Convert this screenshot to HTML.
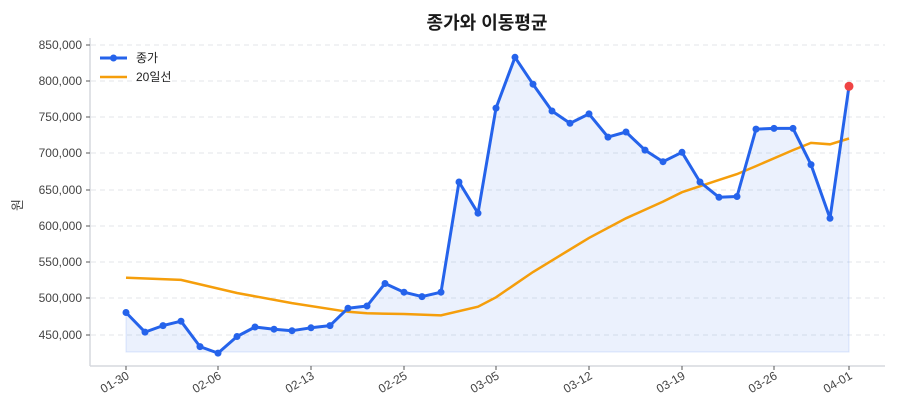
<!DOCTYPE html>
<html><head><meta charset="utf-8"><style>
html,body{margin:0;padding:0;background:#fff;}
svg{display:block;font-family:"Liberation Sans","Noto Sans CJK KR",sans-serif;}
</style></head><body>
<svg width="900" height="420" viewBox="0 0 900 420">
<text x="487" y="29" text-anchor="middle" font-size="18" font-weight="bold" fill="#1a1a1a">종가와 이동평균</text>
<g stroke="#e3e6ea" stroke-dasharray="5,4" stroke-width="1">
<line x1="91" x2="885" y1="45" y2="45"/><line x1="91" x2="885" y1="81" y2="81"/><line x1="91" x2="885" y1="117" y2="117"/><line x1="91" x2="885" y1="153" y2="153"/><line x1="91" x2="885" y1="190" y2="190"/><line x1="91" x2="885" y1="226" y2="226"/><line x1="91" x2="885" y1="262" y2="262"/><line x1="91" x2="885" y1="298" y2="298"/><line x1="91" x2="885" y1="335" y2="335"/>
</g>
<line x1="90" y1="38" x2="90" y2="366" stroke="#d5d8de" stroke-width="1.5"/>
<line x1="90" y1="366" x2="885" y2="366" stroke="#d5d8de" stroke-width="1.5"/>
<g font-size="12" fill="#444" text-anchor="end">
<text x="82" y="49">850,000</text><text x="82" y="85">800,000</text><text x="82" y="121">750,000</text><text x="82" y="157">700,000</text><text x="82" y="194">650,000</text><text x="82" y="230">600,000</text><text x="82" y="266">550,000</text><text x="82" y="302">500,000</text><text x="82" y="339">450,000</text>
</g>
<g stroke="#555"><line x1="86" x2="90" y1="45" y2="45"/><line x1="86" x2="90" y1="81" y2="81"/><line x1="86" x2="90" y1="117" y2="117"/><line x1="86" x2="90" y1="153" y2="153"/><line x1="86" x2="90" y1="190" y2="190"/><line x1="86" x2="90" y1="226" y2="226"/><line x1="86" x2="90" y1="262" y2="262"/><line x1="86" x2="90" y1="298" y2="298"/><line x1="86" x2="90" y1="335" y2="335"/></g>
<text transform="translate(22,205) rotate(-90)" font-size="13" fill="#444" text-anchor="middle">원</text>
<g font-size="12" fill="#444" text-anchor="end">
<text transform="translate(130,378) rotate(-30)">01-30</text>
<text transform="translate(222,378) rotate(-30)">02-06</text>
<text transform="translate(315,378) rotate(-30)">02-13</text>
<text transform="translate(408,378) rotate(-30)">02-25</text>
<text transform="translate(500,378) rotate(-30)">03-05</text>
<text transform="translate(593,378) rotate(-30)">03-12</text>
<text transform="translate(686,378) rotate(-30)">03-19</text>
<text transform="translate(778,378) rotate(-30)">03-26</text>
<text transform="translate(853,378) rotate(-30)">04-01</text>
</g>
<g stroke="#555"><line x1="126" x2="126" y1="366" y2="370"/><line x1="218" x2="218" y1="366" y2="370"/><line x1="311" x2="311" y1="366" y2="370"/><line x1="404" x2="404" y1="366" y2="370"/><line x1="496" x2="496" y1="366" y2="370"/><line x1="589" x2="589" y1="366" y2="370"/><line x1="682" x2="682" y1="366" y2="370"/><line x1="774" x2="774" y1="366" y2="370"/><line x1="849" x2="849" y1="366" y2="370"/></g>
<polygon fill="#2563eb" fill-opacity="0.09" stroke="#2563eb" stroke-opacity="0.15" points="126,352 126,312.5 145,332.1 163,325.6 181,321.2 200,346.6 218,353.1 237,336.5 255,327 274,329.2 292,330.7 311,327.8 330,325.6 348,308.2 367,306 385,283.5 404,292.2 422,296.6 441,292.2 459,182 478,213.2 496,108.1 515,57.3 533,84.2 552,111 570,123.3 589,113.9 608,137.1 626,132 645,150.1 663,161.7 682,152.3 700,182 719,197.3 737,196.5 756,129.1 774,128.4 793,128.4 811,164.6 830,218.3 849,86.3 849,352"/>
<polyline fill="none" stroke="#f59e0b" stroke-width="2.5" points="126,277.7 181,279.9 237,293 292,303.1 348,311.8 367,313.3 404,314 441,315.4 478,306.7 496,297.3 515,284.3 533,272 570,249.5 589,237.9 626,218.3 663,201.6 682,192.2 719,179.9 737,174.1 756,166.1 793,150.1 811,142.9 830,144.3 849,138.5"/>
<polyline id="c" fill="none" stroke="#2563eb" stroke-width="3" stroke-linejoin="round" points="126,312.5 145,332.1 163,325.6 181,321.2 200,346.6 218,353.1 237,336.5 255,327 274,329.2 292,330.7 311,327.8 330,325.6 348,308.2 367,306 385,283.5 404,292.2 422,296.6 441,292.2 459,182 478,213.2 496,108.1 515,57.3 533,84.2 552,111 570,123.3 589,113.9 608,137.1 626,132 645,150.1 663,161.7 682,152.3 700,182 719,197.3 737,196.5 756,129.1 774,128.4 793,128.4 811,164.6 830,218.3 849,86.3"/>
<g fill="#2563eb">
<circle cx="126" cy="312.5" r="3.5"/><circle cx="145" cy="332.1" r="3.5"/><circle cx="163" cy="325.6" r="3.5"/><circle cx="181" cy="321.2" r="3.5"/><circle cx="200" cy="346.6" r="3.5"/><circle cx="218" cy="353.1" r="3.5"/><circle cx="237" cy="336.5" r="3.5"/><circle cx="255" cy="327" r="3.5"/><circle cx="274" cy="329.2" r="3.5"/><circle cx="292" cy="330.7" r="3.5"/><circle cx="311" cy="327.8" r="3.5"/><circle cx="330" cy="325.6" r="3.5"/><circle cx="348" cy="308.2" r="3.5"/><circle cx="367" cy="306" r="3.5"/><circle cx="385" cy="283.5" r="3.5"/><circle cx="404" cy="292.2" r="3.5"/><circle cx="422" cy="296.6" r="3.5"/><circle cx="441" cy="292.2" r="3.5"/><circle cx="459" cy="182" r="3.5"/><circle cx="478" cy="213.2" r="3.5"/><circle cx="496" cy="108.1" r="3.5"/><circle cx="515" cy="57.3" r="3.5"/><circle cx="533" cy="84.2" r="3.5"/><circle cx="552" cy="111" r="3.5"/><circle cx="570" cy="123.3" r="3.5"/><circle cx="589" cy="113.9" r="3.5"/><circle cx="608" cy="137.1" r="3.5"/><circle cx="626" cy="132" r="3.5"/><circle cx="645" cy="150.1" r="3.5"/><circle cx="663" cy="161.7" r="3.5"/><circle cx="682" cy="152.3" r="3.5"/><circle cx="700" cy="182" r="3.5"/><circle cx="719" cy="197.3" r="3.5"/><circle cx="737" cy="196.5" r="3.5"/><circle cx="756" cy="129.1" r="3.5"/><circle cx="774" cy="128.4" r="3.5"/><circle cx="793" cy="128.4" r="3.5"/><circle cx="811" cy="164.6" r="3.5"/><circle cx="830" cy="218.3" r="3.5"/>
</g>
<circle cx="849" cy="86.3" r="4.5" fill="#ef4444"/>
<line x1="100" y1="58" x2="127" y2="58" stroke="#2563eb" stroke-width="3"/>
<circle cx="113.5" cy="58" r="3.5" fill="#2563eb"/>
<line x1="100" y1="77" x2="127" y2="77" stroke="#f59e0b" stroke-width="2.5"/>
<text x="136" y="62" font-size="12" fill="#222">종가</text>
<text x="136" y="81" font-size="12" fill="#222">20일선</text>
</svg>
</body></html>
